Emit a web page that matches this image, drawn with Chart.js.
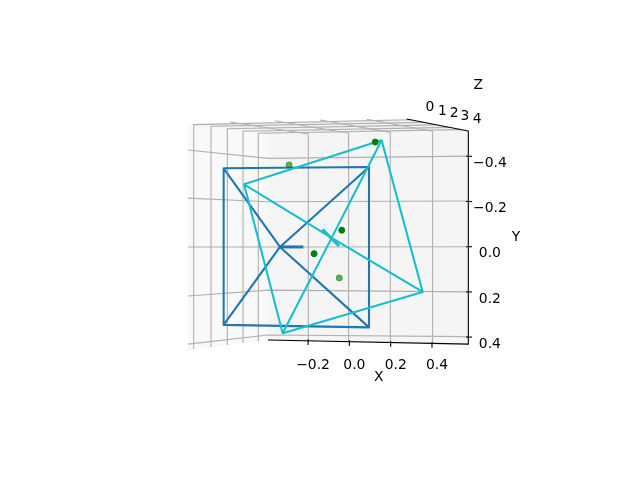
<!DOCTYPE html>
<html>
<head>
<meta charset="utf-8">
<script src="https://cdn.jsdelivr.net/npm/chart.js@4/dist/chart.umd.min.js"></script>
<style>
body { margin: 0; background: #fff; }
canvas { display: block; }
</style>
</head>
<body>
<canvas id="graphCanvas" width="640" height="480"></canvas>
<script>
// tick labels
var xTicks = [-0.2, 0, 0.2, 0.4];
var yTicks = [-0.4, -0.2, 0, 0.2, 0.4];
var zTicks = ['0', '1', '2', '3', '4'];

// the square, the spokes to its apex and the stem
var blueX = [-0.609, 0.095, 0.095, -0.609, -0.609, -0.336, 0.095, -0.336, -0.609, -0.336, 0.095];
var blueY = [-0.347, -0.353, 0.357, 0.346, -0.347, 0.001, 0.357, 0.001, 0.346, 0.001, -0.353];
var blueStemX = [-0.336, -0.223];
var blueStemY = [0.001, 0.001];

// the rotated square
var cyanX = [0.156, 0.355, -0.323, -0.510, 0.156, -0.086, -0.323, -0.086, -0.510, -0.086, 0.355];
var cyanY = [-0.471, 0.200, 0.383, -0.276, -0.471, -0.039, 0.383, -0.039, -0.276, -0.039, 0.200];
var cyanStemX = [-0.131, -0.050];
var cyanStemY = [-0.077, -0.003];

// green points
var greenX = [0.125, -0.037, -0.171];
var greenY = [-0.463, -0.073, 0.031];
var fadedX = [-0.292, -0.049];
var fadedY = [-0.362, 0.138];

// the walls of the box, as seen on the plane of the back wall
var leftWallX = [-0.782, -0.394, -0.394, -0.782];
var leftWallY = [-0.543, -0.499, 0.413, 0.461];
var topWallX = [-0.782, 0.277, 0.576, -0.394];
var topWallY = [-0.543, -0.565, -0.512, -0.499];
var backWallX = [-0.394, 0.576, 0.576, -0.394];
var backWallY = [-0.499, -0.512, 0.431, 0.413];

// grid lines, one row per tick
var zGridX = [[-0.754, -0.754, 0.298], [-0.670, -0.670, 0.359], [-0.591, -0.591, 0.419], [-0.515, -0.515, 0.482], [-0.441, -0.441, 0.545]];
var zGridY = [[0.453, -0.540, -0.562], [0.444, -0.533, -0.550], [0.435, -0.522, -0.539], [0.426, -0.511, -0.528], [0.417, -0.502, -0.518]];
var xGridX = [[-0.578, -0.199, -0.199], [-0.360, -0.004, -0.004], [-0.142, 0.198, 0.198], [0.084, 0.403, 0.403]];
var xGridY = [[-0.552, -0.499, 0.417], [-0.557, -0.502, 0.419], [-0.561, -0.506, 0.424], [-0.564, -0.511, 0.426]];
var yGridX = [-0.782, -0.394, 0.576];
var yGridY = [[-0.428, -0.391, -0.401], [-0.215, -0.199, -0.202], [0.001, 0.001, 0], [0.218, 0.192, 0.200], [0.431, 0.391, 0.398]];

// axis edges and tick marks
var xEdgeX = [-0.394, 0.576];
var xEdgeY = [0.413, 0.431];
var yEdgeX = [0.576, 0.576];
var yEdgeY = [-0.512, 0.431];
var zEdgeX = [0.277, 0.576];
var zEdgeY = [-0.565, -0.512];
var xTickTop = [0.411, 0.415, 0.419, 0.423];
var xTickBottom = [0.433, 0.437, 0.441, 0.445];
var yTickX = [0.565, 0.594];

// text that has no scale of its own
var zTickLabelX = [0.390, 0.450, 0.507, 0.559, 0.619];
var zTickLabelY = [-0.616, -0.598, -0.588, -0.576, -0.565];
var axisNames = ['X', 'Y', 'Z'];
var axisNameX = [0.142, 0.807, 0.624];
var axisNameY = [0.579, -0.042, -0.716];

var fontName = '"DejaVu Sans"';
var gridColor = '#b0b0b0';

function pts(xs, ys) {
    var out = [];
    for (var i in xs) {
        out.push({ x: xs[i], y: ys[i] });
    }
    return out;
}

function line(data, color, width) {
    return { data: data, showLine: true, borderColor: color, borderWidth: width, pointRadius: 0, tension: 0, borderJoinStyle: 'round', clip: false };
}

function wall(xs, ys, color) {
    return { data: pts(xs, ys), showLine: true, fill: 'shape', backgroundColor: color, borderWidth: 0, pointRadius: 0, tension: 0 };
}

function dots(xs, ys, color) {
    return { data: pts(xs, ys), showLine: false, backgroundColor: color, borderColor: color, borderWidth: 1, pointRadius: 3, clip: false };
}

var sets = [];
sets.push(wall(leftWallX, leftWallY, '#f9f9f9'));
sets.push(wall(topWallX, topWallY, '#f2f2f2'));
sets.push(wall(backWallX, backWallY, '#f5f5f5'));

for (var i in zGridX) {
    sets.push(line(pts(zGridX[i], zGridY[i]), gridColor, 1.1));
}
for (var i in xGridX) {
    sets.push(line(pts(xGridX[i], xGridY[i]), gridColor, 1.1));
}
for (var i in yGridY) {
    sets.push(line(pts(yGridX, yGridY[i]), gridColor, 1.1));
}

sets.push(line(pts(xEdgeX, xEdgeY), '#000', 1.1));
sets.push(line(pts(yEdgeX, yEdgeY), '#000', 1.1));
sets.push(line(pts(zEdgeX, zEdgeY), '#000', 1.1));
for (var i in xTicks) {
    sets.push(line(pts([xTicks[i], xTicks[i]], [xTickTop[i], xTickBottom[i]]), '#000', 1.1));
}
for (var i in yTicks) {
    sets.push(line(pts(yTickX, [yTicks[i], yTicks[i]]), '#000', 1.1));
}

sets.push(line(pts(blueX, blueY), '#1f77b4', 2.1));
sets.push(line(pts(blueStemX, blueStemY), '#1f77b4', 3));
sets.push(line(pts(cyanX, cyanY), '#17becf', 2.1));
sets.push(line(pts(cyanStemX, cyanStemY), '#17becf', 3));
sets.push(dots(fadedX, fadedY, 'rgba(0,128,0,0.6)'));
sets.push(dots(greenX, greenY, '#008000'));

// lower order is painted later
for (var i = 0; i < sets.length; i++) {
    sets[i].order = sets.length - i;
}

function tickText(value) {
    return Number(value).toFixed(1).replace('-', '\u2212');
}

var freeText = {
    id: 'freeText',
    afterDraw: function (chart) {
        var ctx = chart.ctx;
        var sx = chart.scales.x;
        var sy = chart.scales.y;
        ctx.save();
        ctx.font = '13.9px ' + fontName;
        ctx.fillStyle = '#000';
        ctx.textAlign = 'center';
        ctx.textBaseline = 'middle';
        for (var i in zTicks) {
            ctx.fillText(zTicks[i], sx.getPixelForValue(zTickLabelX[i]), sy.getPixelForValue(zTickLabelY[i]));
        }
        for (var i in axisNames) {
            ctx.fillText(axisNames[i], sx.getPixelForValue(axisNameX[i]), sy.getPixelForValue(axisNameY[i]));
        }
        ctx.restore();
    }
};

new Chart(document.getElementById('graphCanvas'), {
    type: 'scatter',
    data: { datasets: sets },
    plugins: [freeText],
    options: {
        responsive: false,
        animation: false,
        layout: { padding: { left: 187, top: 118, right: 0, bottom: 0 } },
        plugins: { legend: { display: false }, tooltip: { enabled: false } },
        scales: {
            x: {
                type: 'linear',
                min: -0.7864,
                max: 0.5792,
                grid: { display: false, drawTicks: false },
                border: { display: false },
                afterFit: function (scale) { scale.height = 128; },
                afterBuildTicks: function (scale) {
                    scale.ticks = xTicks.map(function (v) { return { value: v }; });
                },
                ticks: {
                    callback: tickText,
                    autoSkip: false,
                    maxRotation: 0,
                    labelOffset: 5,
                    padding: 5,
                    color: '#000',
                    font: { family: fontName, size: 13.9 }
                }
            },
            y: {
                type: 'linear',
                position: 'right',
                reverse: true,
                min: -0.5695,
                max: 0.4659,
                grid: { display: false, drawTicks: false },
                border: { display: false },
                afterFit: function (scale) { scale.width = 171; },
                afterBuildTicks: function (scale) {
                    scale.ticks = yTicks.map(function (v) { return { value: v }; });
                },
                ticks: {
                    callback: tickText,
                    autoSkip: false,
                    labelOffset: 7,
                    padding: 4,
                    crossAlign: 'center',
                    color: '#000',
                    font: { family: fontName, size: 13.9 }
                }
            }
        }
    }
});
</script>
</body>
</html>
